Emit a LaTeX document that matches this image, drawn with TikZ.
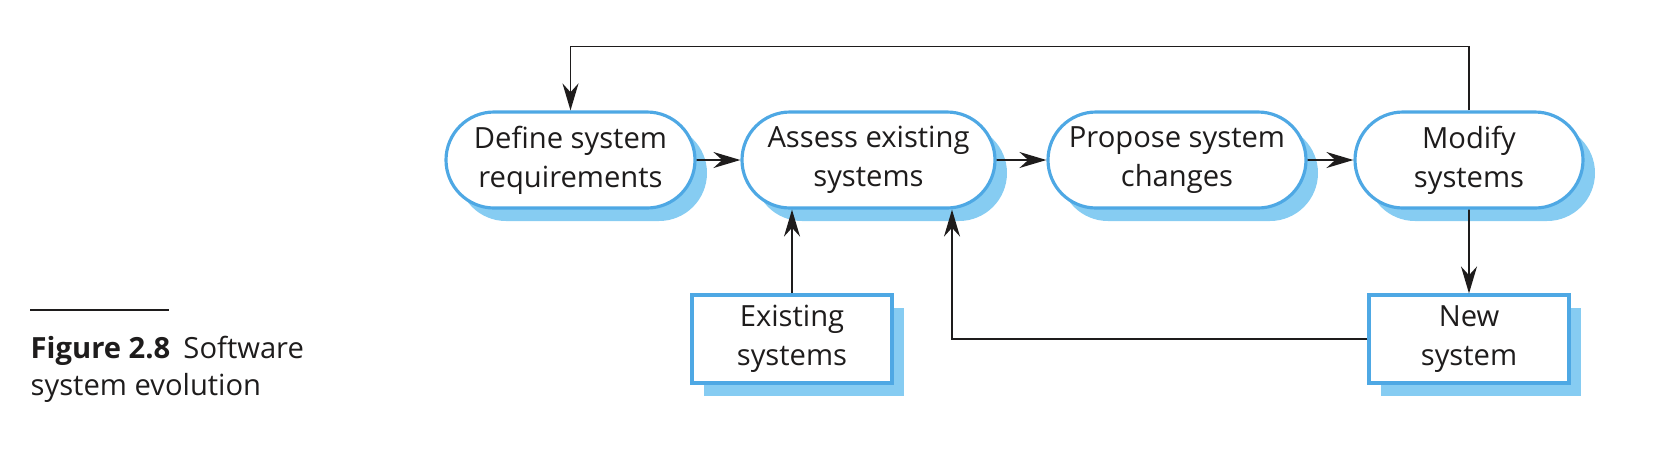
\documentclass[tikz,border=0pt]{standalone}
\usepackage{fontspec}
\setmainfont{Open Sans}
\usepackage{xcolor}
\definecolor{azulcl}{RGB}{134, 204, 242}
\definecolor{azulos}{RGB}{78, 168, 228}
\definecolor{tinta}{RGB}{30, 28, 28}
\usetikzlibrary{shapes.misc, arrows.meta, positioning, shadows}

\begin{document}
\begin{tikzpicture}[>={Stealth[length=2.7mm, width=1.6mm]},
    font=\fontsize{8.3}{11.1}\selectfont, text=tinta,
    sombra/.style={drop shadow={shadow xshift=0.12cm, shadow yshift=-0.13cm, fill=azulcl, opacity=1}},
    proceso/.style={rounded rectangle, draw=azulos, line width=0.9pt, fill=white, align=center,
        minimum height=0.96cm, inner sep=0pt, sombra},
    sistema/.style={rectangle, draw=azulos, line width=0.9pt, fill=white, align=center,
        minimum width=2cm, minimum height=0.88cm, inner sep=0pt, sombra},
    flecha/.style={->, line width=0.45pt, draw=tinta}]

    \useasboundingbox (0,0) rectangle (16.56,4.52);

    % Actividades
    \node[proceso, minimum width=2.49cm] (definir) at (5.705,2.92) {Define system\\requirements};
    \node[proceso, minimum width=2.53cm] (evaluar) at (8.685,2.92) {Assess existing\\systems};
    \node[proceso, minimum width=2.58cm] (proponer) at (11.77,2.92) {Propose system\\changes};
    \node[proceso, minimum width=2.28cm] (modificar) at (14.69,2.92) {Modify\\systems};

    % Sistemas
    \node[sistema] (existentes) at (7.92,1.13) {Existing\\systems};
    \node[sistema] (nuevo) at (14.69,1.13) {New\\system};

    % Flechas
    \draw[flecha] (definir) -- (evaluar);
    \draw[flecha] (evaluar) -- (proponer);
    \draw[flecha] (proponer) -- (modificar);
    \draw[flecha] (modificar.north) -- ++(0,0.64) -| (definir.north);
    \draw[flecha] (modificar) -- (nuevo);
    \draw[flecha] (existentes) -- (existentes |- evaluar.south);
    \coordinate (giro) at (9.52,1.13);
    \draw[flecha] (nuevo.west) -- (giro) -- (giro |- evaluar.south);

    % Pie de figura
    \draw[line width=0.6pt, tinta] (0.30,1.42) -- (1.69,1.42);
    \node[anchor=base west, inner sep=0pt, font=\fontsize{8.3}{10.5}\selectfont] (pie1) at (0.30,0.94)
        {\textbf{Figure 2.8}\hspace{0.45em}Software};
    \node[anchor=base west, inner sep=0pt, font=\fontsize{8.3}{10.5}\selectfont] (pie2) at (0.30,0.57)
        {system evolution};
\end{tikzpicture}
\end{document}
